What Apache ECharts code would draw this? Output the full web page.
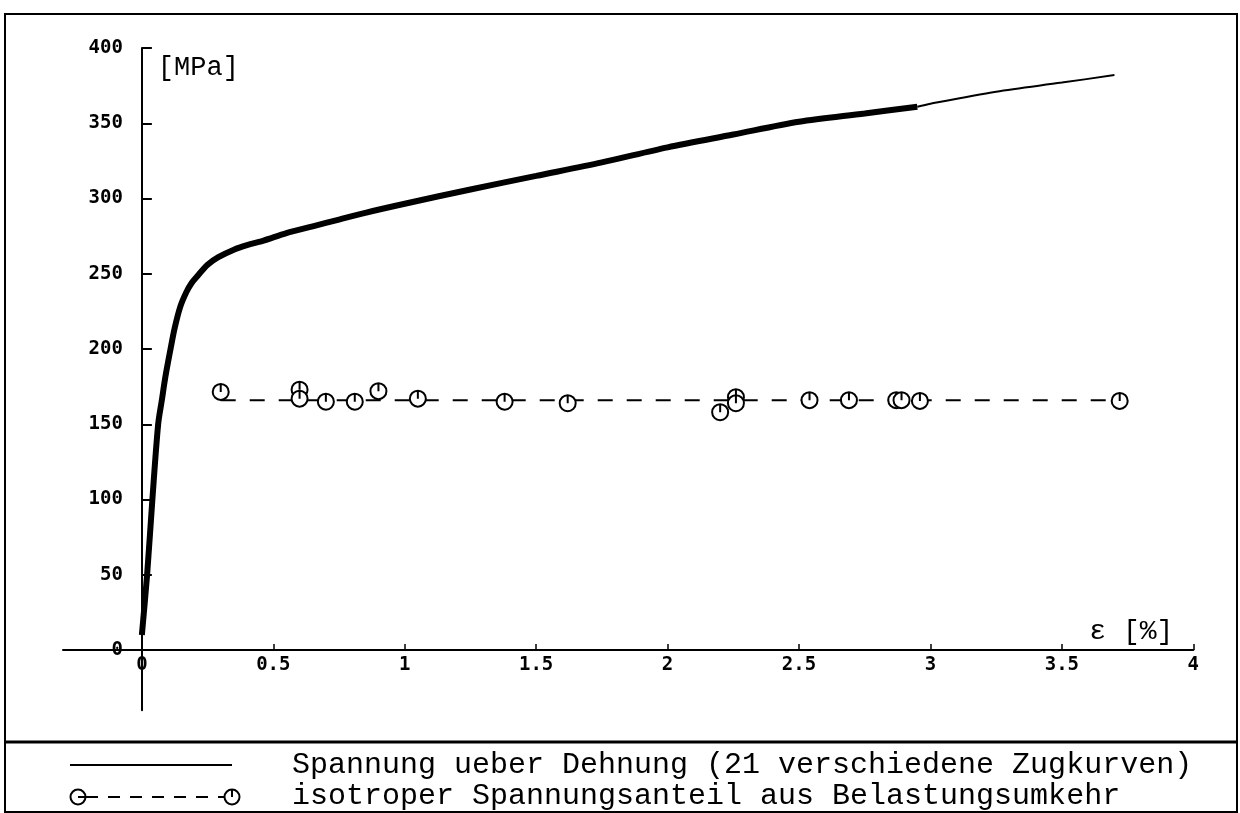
<!DOCTYPE html>
<html><head><meta charset="utf-8">
<script src="https://cdn.jsdelivr.net/npm/echarts@6/dist/echarts.min.js"></script>
<style>html,body{margin:0;padding:0;background:#fff}#c{width:1240px;height:813px}</style>
</head><body><div id="c"></div>
<script>
const curveName = 'Spannung ueber Dehnung (21 verschiedene Zugkurven)';
const isoName = 'isotroper Spannungsanteil aus Belastungsumkehr';
const curveStrain = [0, 0.02, 0.04, 0.062, 0.076, 0.09, 0.108, 0.125, 0.146, 0.17, 0.19, 0.209, 0.25, 0.291, 0.35, 0.4, 0.463, 0.55, 0.65, 0.75, 0.85, 1.0, 1.25, 1.5, 1.75, 2.0, 2.25, 2.5, 2.75, 2.95];
const curveStress = [10, 50, 100, 150, 166, 182, 199, 214, 228, 238, 244, 248, 256, 261, 266, 269, 272, 277, 281.5, 286, 290.5, 296.5, 306, 315, 324, 334, 342.5, 351, 356.5, 361];
const tailStrain = [2.95, 3.0, 3.25, 3.5, 3.7];
const tailStress = [361, 363, 371, 377, 382];
const isoStrain = [0.3, 0.6, 0.6, 0.7, 0.81, 0.9, 1.05, 1.38, 1.62, 2.2, 2.26, 2.26, 2.54, 2.69, 2.87, 2.89, 2.96, 3.72];
const isoStress = [171.5, 173, 167, 165, 165, 172, 167, 165, 164, 158, 168, 164, 166, 166, 166, 166, 165.5, 165.5];
const meanStrain = [0.3, 3.72];
const meanStress = [166, 166];
const xTicks = [0, 0.5, 1, 1.5, 2, 2.5, 3, 3.5, 4];
const yTicks = [0, 50, 100, 150, 200, 250, 300, 350, 400];

const zip = (a, b) => a.map((v, i) => [v, b[i]]);
const markerPath = 'path://M10,0A10,10 0 1,1 9.99,0ZM10,0L10,10';
const mono = 'Liberation Mono';
const tickFont = {fontFamily: 'DejaVu Sans Mono', fontWeight: 'bold', fontSize: 19, color: '#000'};

const gridLeft = 63, gridRight = 46.7, gridTop = 48, gridBottom = 102.8;
const xMin = -0.3, xMax = 4, yMin = -40, yMax = 400;
const pxPerX = (1240 - gridLeft - gridRight) / (xMax - xMin);
const pxPerY = (813 - gridTop - gridBottom) / (yMax - yMin);

const legendText = {fontFamily: mono, fontSize: 30, lineHeight: 30, color: '#000'};

const chart = echarts.init(document.getElementById('c'), null, {renderer: 'canvas'});
chart.setOption({
  animation: false,
  backgroundColor: '#fff',
  grid: {left: gridLeft, right: gridRight, top: gridTop, bottom: gridBottom, containLabel: false},
  xAxis: {
    type: 'value', min: xMin, max: xMax,
    offset: yMin * pxPerY,
    name: 'ε [%]', nameLocation: 'end', nameGap: 0,
    nameTextStyle: {fontFamily: mono, fontSize: 28, color: '#000', align: 'right', verticalAlign: 'bottom', padding: [0, 20, 4, 0]},
    axisLine: {onZero: false, lineStyle: {color: '#000', width: 2}},
    axisTick: {inside: true, length: 6, customValues: xTicks, lineStyle: {color: '#000', width: 1.5}},
    axisLabel: {customValues: xTicks, margin: 6, ...tickFont},
    splitLine: {show: false}
  },
  yAxis: {
    type: 'value', min: yMin, max: yMax,
    offset: xMin * pxPerX,
    name: '[MPa]', nameLocation: 'end', nameGap: 0,
    nameTextStyle: {fontFamily: mono, fontSize: 27, color: '#000', align: 'left', verticalAlign: 'top', padding: [6, 0, 0, 16]},
    axisLine: {onZero: false, lineStyle: {color: '#000', width: 2}},
    axisTick: {inside: true, length: 10, customValues: yTicks, lineStyle: {color: '#000', width: 2}},
    axisLabel: {customValues: yTicks, margin: 19, ...tickFont},
    splitLine: {show: false}
  },
  legend: [
    {left: 286, top: 750, padding: 0, itemWidth: 1, itemHeight: 14, icon: 'none', selectedMode: false,
     textStyle: legendText, data: [{name: curveName, icon: 'none'}]},
    {left: 286, top: 781, padding: 0, itemWidth: 1, itemHeight: 14, icon: 'none', selectedMode: false,
     textStyle: legendText, data: [{name: isoName, icon: 'none'}]}
  ],
  series: [
    {name: curveName, type: 'line', data: zip(curveStrain, curveStress), symbol: 'none', smooth: 0.3,
     lineStyle: {color: '#000', width: 6}, itemStyle: {color: '#000'}, z: 3},
    {name: curveName, type: 'line', data: zip(tailStrain, tailStress), symbol: 'none', smooth: 0.3,
     lineStyle: {color: '#000', width: 2}, itemStyle: {color: '#000'}, z: 3},
    {name: isoName, type: 'line', data: zip(meanStrain, meanStress), symbol: 'none',
     lineStyle: {color: '#000', width: 2, type: [15, 14]}, itemStyle: {color: '#000'}, z: 2},
    {name: isoName, type: 'scatter', data: zip(isoStrain, isoStress), symbol: markerPath, symbolSize: 16,
     itemStyle: {color: '#fff', borderColor: '#000', borderWidth: 2, opacity: 1}, z: 4}
  ],
  graphic: [
    {type: 'rect', shape: {x: 5, y: 14, width: 1232, height: 798}, style: {fill: 'none', stroke: '#000', lineWidth: 2}, silent: true},
    {type: 'line', shape: {x1: 5, y1: 742, x2: 1237, y2: 742}, style: {stroke: '#000', lineWidth: 3}, silent: true},
    {type: 'line', shape: {x1: 70, y1: 765, x2: 232, y2: 765}, style: {stroke: '#000', lineWidth: 2}, silent: true},
    {type: 'line', shape: {x1: 86, y1: 797, x2: 224, y2: 797}, style: {stroke: '#000', lineWidth: 2, lineDash: [12, 10]}, silent: true},
    {type: 'circle', shape: {cx: 78, cy: 797, r: 7.5}, style: {fill: '#fff', stroke: '#000', lineWidth: 2}, silent: true},
    {type: 'line', shape: {x1: 78, y1: 797, x2: 85.5, y2: 797}, style: {stroke: '#000', lineWidth: 2}, silent: true},
    {type: 'circle', shape: {cx: 232, cy: 797, r: 7.5}, style: {fill: '#fff', stroke: '#000', lineWidth: 2}, silent: true},
    {type: 'line', shape: {x1: 232, y1: 789.5, x2: 232, y2: 797}, style: {stroke: '#000', lineWidth: 2}, silent: true}
  ]
});
</script></body></html>
